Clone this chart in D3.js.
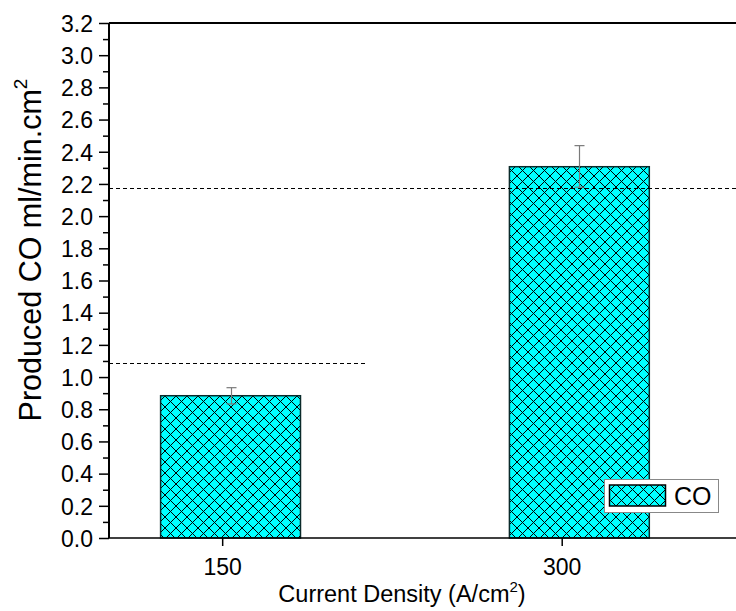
<!DOCTYPE html>
<html>
<head>
<meta charset="utf-8">
<script src="https://cdn.jsdelivr.net/npm/d3@7"></script>
<style>
  html, body { margin: 0; padding: 0; background: #fff; }
  svg { display: block; font-family: Arial, "Liberation Sans", sans-serif; }
</style>
</head>
<body>
<svg id="chart" width="736" height="611"></svg>
<script>
// Current density categories (A/cm²) and where each bar sits on the x axis
const categories = [150, 300];
const barPositions = [153.7, 307.8];
// Produced CO (ml/min.cm²) with error bar ends
const coValues = [0.884, 2.307];
const errLow = [0.833, 2.180];
const errHigh = [0.934, 2.438];
// Reference levels drawn as dashed lines, with their x extent (axis units)
const refLevels = [1.088, 2.173];
const refStarts = [100, 100];
const refEnds = [214, 377];
// Axis ticks
const yMajorTicks = d3.range(0, 3.2001, 0.2);
const yMinorTicks = d3.range(0.1, 3.2, 0.2);

const svg = d3.select("#chart");
const plotLeft = 109, plotRight = 736, plotTop = 23, plotBottom = 538;

const x = d3.scaleLinear().domain([100, 377]).range([plotLeft, plotRight]);
const y = d3.scaleLinear().domain([0, 3.2]).range([plotBottom, plotTop]);
const barWidth = 61.8; // in x-axis units

// Cross-hatch pattern
const P = 11;
const defs = svg.append("defs");
const pat = defs.append("pattern")
  .attr("id", "xhatch")
  .attr("patternUnits", "userSpaceOnUse")
  .attr("width", P).attr("height", P);
pat.append("rect").attr("width", P).attr("height", P).attr("fill", "#00ffff");
pat.append("path")
  .attr("d", `M0,0L${P},${P}M${P},0L0,${P}M${-P/2},${P/2}L0,${P}M${P/2},${-P/2}L${P},0M${P/2},${P*1.5}L${P*1.5},${P/2}M${-P/2},${P/2}L${P/2},${-P/2}M${P},${P}L${P*1.5},${P*1.5}M${P},0L${P*1.5},${-P/2}`)
  .attr("stroke", "#000").attr("stroke-width", 1).attr("fill", "none")
  .attr("shape-rendering", "crispEdges");

// Bars
svg.append("g").selectAll("rect")
  .data(coValues)
  .join("rect")
  .attr("x", (d, i) => x(barPositions[i] - barWidth / 2))
  .attr("y", d => y(d))
  .attr("width", x(barWidth) - x(0))
  .attr("height", d => y(0) - y(d))
  .attr("fill", "url(#xhatch)")
  .attr("stroke", "#0a2a2a")
  .attr("stroke-width", 1.5);

// Error bars
const eb = svg.append("g").attr("stroke", "#7a7a7a").attr("stroke-width", 1.2);
coValues.forEach((v, i) => {
  const cx = Math.round(x(barPositions[i])) + 0.5;
  eb.append("line").attr("x1", cx).attr("x2", cx).attr("y1", y(errLow[i])).attr("y2", y(errHigh[i]));
  [errLow[i], errHigh[i]].forEach(e => {
    eb.append("line").attr("x1", cx - 5).attr("x2", cx + 5).attr("y1", y(e)).attr("y2", y(e));
  });
});

// Dashed reference lines
svg.append("g").selectAll("line")
  .data(refLevels)
  .join("line")
  .attr("x1", (d, i) => x(refStarts[i]))
  .attr("x2", (d, i) => x(refEnds[i]))
  .attr("y1", d => Math.round(y(d)) + 0.5)
  .attr("y2", d => Math.round(y(d)) + 0.5)
  .attr("stroke", "#000")
  .attr("stroke-width", 1)
  .attr("stroke-dasharray", "4,3");

// Y axis with major ticks
const yAxis = svg.append("g")
  .attr("transform", `translate(${plotLeft},0)`)
  .call(d3.axisLeft(y).tickValues(yMajorTicks).tickFormat(d3.format(".1f")).tickSize(10).tickPadding(6));
yAxis.select(".domain").attr("stroke-width", 2).attr("d", `M0,${plotBottom}V${plotTop}`);
yAxis.selectAll(".tick line").attr("stroke-width", 1.5);
yAxis.selectAll(".tick text").attr("font-size", 23).attr("fill", "#000").attr("dy", "0.36em");

// Minor ticks
svg.append("g").attr("transform", `translate(${plotLeft},0)`)
  .call(d3.axisLeft(y).tickValues(yMinorTicks).tickFormat("").tickSize(6))
  .call(g => g.select(".domain").remove())
  .selectAll(".tick line").attr("stroke-width", 1.5);

// X axis
const xAxis = svg.append("g")
  .attr("transform", `translate(0,${plotBottom})`)
  .call(d3.axisBottom(x).tickValues(categories).tickFormat(d3.format("d")).tickSize(8).tickPadding(13));
xAxis.select(".domain").attr("stroke-width", 1.5).attr("d", `M${plotLeft},0H${plotRight}`);
xAxis.selectAll(".tick line").attr("stroke-width", 1.5);
xAxis.selectAll(".tick text").attr("font-size", 23).attr("fill", "#000");

// Top frame line
svg.append("line")
  .attr("x1", plotLeft).attr("x2", plotRight).attr("y1", plotTop).attr("y2", plotTop)
  .attr("stroke", "#000").attr("stroke-width", 2);

// Axis titles
const xt = svg.append("text")
  .attr("x", 402).attr("y", 602)
  .attr("text-anchor", "middle").attr("font-size", 23.5);
xt.append("tspan").text("Current Density (A/cm");
xt.append("tspan").attr("font-size", 15).attr("dy", -10).text("2");
xt.append("tspan").attr("dy", 10).text(")");

const yt = svg.append("text")
  .attr("transform", "translate(41,250) rotate(-90)")
  .attr("text-anchor", "middle").attr("font-size", 30.5);
yt.append("tspan").text("Produced CO ml/min.cm");
yt.append("tspan").attr("font-size", 19).attr("dy", -14).text("2");

// Legend
const lg = svg.append("g");
lg.append("rect").attr("x", 604.5).attr("y", 479.5).attr("width", 114).attr("height", 33)
  .attr("fill", "#fff").attr("stroke", "#888").attr("stroke-width", 1);
lg.append("rect").attr("x", 609.5).attr("y", 485).attr("width", 56).attr("height", 21)
  .attr("fill", "url(#xhatch)").attr("stroke", "#000").attr("stroke-width", 1.5);
lg.append("text").attr("x", 674).attr("y", 505).attr("font-size", 25).text("CO");
</script>
</body>
</html>
